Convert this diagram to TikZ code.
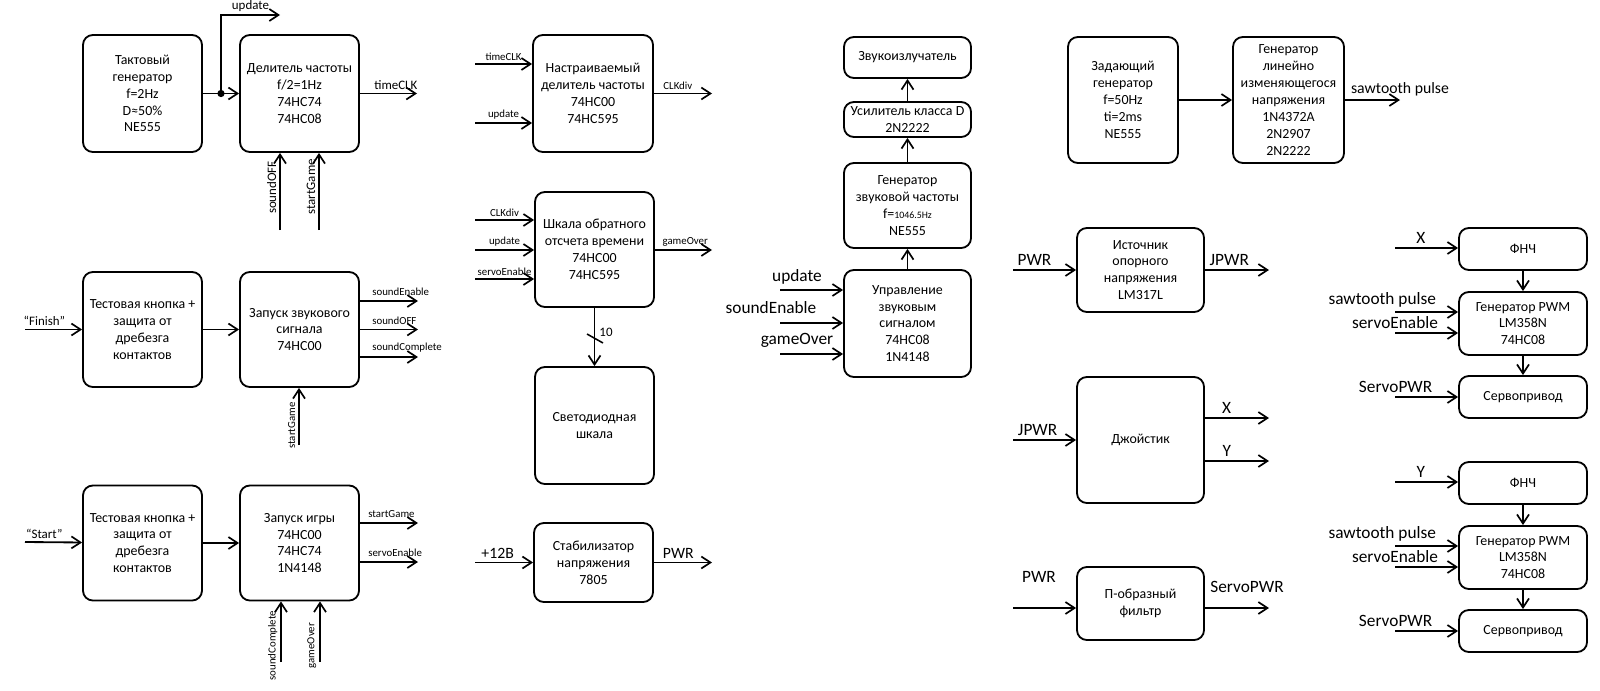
\documentclass[tikz,border=0pt]{standalone}
\usepackage{fontspec}
\setmainfont{Carlito}
\usetikzlibrary{arrows.meta,positioning,calc}

\newcommand\fsBox{\fontsize{9.9}{12}\selectfont}
\newcommand\fsTiny{\fontsize{7}{8}\selectfont}
\newcommand\fsSmall{\fontsize{7.7}{9}\selectfont}
\newcommand\fsMid{\fontsize{9.2}{11}\selectfont}
\newcommand\fsLarge{\fontsize{11.2}{13}\selectfont}
\newcommand\fsBig{\fontsize{12.3}{14}\selectfont}

\tikzset{
  blk/.style 2 args={draw, line width=1.3pt, rounded corners=7pt, align=center,
    inner sep=1pt, font=\fsBox, minimum width=#1*0.025cm, minimum height=#2*0.025cm},
  sig/.style={line width=1.3pt, -{Straight Barb[length=6.5pt,width=8.5pt,line width=1.2pt]}},
  lblS/.style={font=\fsSmall, inner sep=2pt},
  lblM/.style={font=\fsMid, inner sep=2pt},
  lblL/.style={font=\fsLarge, inner sep=2.5pt},
  lblB/.style={font=\fsBig, inner sep=2.5pt}
}

\begin{document}
\begin{tikzpicture}[x=0.025cm, y=-0.025cm]
  \useasboundingbox (0,0) rectangle (1600,691);

  % clock and divider
  \node[blk={119}{117}] (tg) at (142.5,93.5) {Тактовый\\генератор\\f=2Hz\\D≈50\%\\NE555};
  \node[blk={119}{117}] (div) at (299.5,93.5) {Делитель частоты\\f/2=1Hz\\74HC74\\74HC08};
  \coordinate (jn) at (221,93.5);
  \coordinate (upd) at (280,15);
  \coordinate (tclk) at (417,93.5);
  \coordinate (soff) at (280,230);
  \coordinate (sgm) at (319,230);
  \draw[sig] (tg) -- (div);
  \fill (jn) circle (2.6pt);
  \draw[sig] (jn) |- node[pos=.75, above, lblM] {update} (upd);
  \draw[sig] (div) -- node[pos=.63, above, lblM] {timeCLK} (tclk);
  \draw[sig] (soff) -- node[pos=.55, rotate=90, anchor=south, lblM] {soundOFF} (soff |- div.south);
  \draw[sig] (sgm) -- node[pos=.56, rotate=90, anchor=south, lblM] {startGame} (sgm |- div.south);

  % button "Finish"
  \node[blk={119}{115}] (btnF) at (142.5,329.5) {Тестовая кнопка +\\защита от\\дребезга\\контактов};
  \node[blk={119}{115}] (snd) at (299.5,329.5) {Запуск звукового\\сигнала\\74HC00};
  \coordinate (fin) at (25,329.5);
  \draw[sig] (fin) -- node[pos=.34, above, lblM] {“Finish”} (btnF);
  \draw[sig] (btnF) -- (snd);
  \foreach \yy/\txt [count=\i] in {301/soundEnable, 329.5/soundOFF, 357/soundComplete} {
    \coordinate (so\i) at (418,\yy);
    \draw[sig] (so\i -| snd.east) -- node[pos=.15, anchor=south west, lblS, yshift=1pt] {\txt} (so\i);
  }
  \coordinate (sg2) at (299,445);
  \draw[sig] (sg2) -- node[pos=.34, rotate=90, anchor=south, lblS] {startGame} (sg2 |- snd.south);

  % button "Start"
  \node[blk={119}{115}] (btnS) at (142.5,543) {Тестовая кнопка +\\защита от\\дребезга\\контактов};
  \node[blk={119}{115}] (game) at (299.5,543) {Запуск игры\\74HC00\\74HC74\\1N4148};
  \coordinate (sta) at (25,542);
  \draw[sig] (sta) -- node[pos=.34, above, lblM] {“Start”} (btnS);
  \draw[sig] (btnS) -- (game);
  \foreach \yy/\txt [count=\i] in {523/startGame, 562/servoEnable} {
    \coordinate (go\i) at (418,\yy);
    \draw[sig] (go\i -| game.east) -- node[pos=.08, anchor=south west, lblS, yshift=1pt] {\txt} (go\i);
  }
  \coordinate (scp) at (281,662);
  \coordinate (gov) at (320,662);
  \draw[sig] (scp) -- node[pos=.27, rotate=90, anchor=south, lblS] {soundComplete} (scp |- game.south);
  \draw[sig] (gov) -- node[pos=.27, rotate=90, anchor=south, lblS] {gameOver} (gov |- game.south);

  % adjustable divider and countdown
  \node[blk={120}{117}] (pdiv) at (593,93.5) {Настраиваемый\\делитель частоты\\74HC00\\74HC595};
  \foreach \yy/\txt [count=\i] in {64/timeCLK, 123/update} {
    \coordinate (pi\i) at (475,\yy);
    \draw[sig] (pi\i) -- node[pos=.5, above, lblS] {\txt} (pi\i -| pdiv.west);
  }
  \coordinate (cdiv) at (712,93.5);
  \draw[sig] (pdiv) -- node[pos=.1, anchor=south west, lblS] {CLKdiv} (cdiv);

  \node[blk={119}{115}] (cnt) at (594.5,249.5) {Шкала обратного\\отсчета времени\\74HC00\\74HC595};
  \foreach \yy/\txt [count=\i] in {220/CLKdiv, 250/update, 279/servoEnable} {
    \coordinate (ci\i) at (475,\yy);
    \draw[sig] (ci\i) -- node[pos=.5, above, lblS] {\txt} (ci\i -| cnt.west);
  }
  \coordinate (gov2) at (712,250);
  \draw[sig] (gov2 -| cnt.east) -- node[pos=.07, anchor=south west, lblS] {gameOver} (gov2);

  \node[blk={119}{117}] (led) at (594.5,425.5) {Светодиодная\\шкала};
  \draw[sig] (cnt) -- (led);
  \coordinate (bus) at (594.5,338.5);
  \draw[line width=1.1pt] ($(bus)+(-7.5,-4.5)$) -- ($(bus)+(8.5,4.5)$);
  \node[lblM] (busn) at (606,332) {10};

  % voltage regulator
  \node[blk={119}{79}] (stab) at (593.5,562.5) {Стабилизатор\\напряжения\\7805};
  \coordinate (v12) at (475,562.5);
  \coordinate (pwr) at (712,562.5);
  \draw[sig] (v12) -- node[pos=.39, above, lblL] {+12B} (stab);
  \draw[sig] (stab) -- node[pos=.42, above, lblL] {PWR} (pwr);

  % sound chain
  \node[blk={127}{41}] (emit) at (907.5,57.5) {Звукоизлучатель};
  \node[blk={127}{35}] (amp) at (907.5,119.5) {Усилитель класса D\\2N2222};
  \node[blk={127}{85}] (agen) at (907.5,205.5) {Генератор\\звуковой частоты\\f={\fsTiny 1046.5Hz}\\NE555};
  \node[blk={127}{107}] (sctl) at (907.5,323.5) {Управление\\звуковым\\сигналом\\74HC08\\1N4148};
  \draw[sig] (sctl) -- (agen);
  \draw[sig] (agen) -- (amp);
  \draw[sig] (amp) -- (emit);
  \foreach \yy/\lx/\ly/\txt [count=\i] in {290/797/277/update, 323/771/308/soundEnable, 354/797/340/gameOver} {
    \coordinate (ui\i) at (780,\yy);
    \draw[sig] (ui\i) -- (ui\i -| sctl.west);
    \node[lblB] (ul\i) at (\lx,\ly) {\txt};
  }

  % sawtooth generator
  \node[blk={110}{126}] (mgen) at (1123,100) {Задающий\\генератор\\f=50Hz\\ti=2ms\\NE555};
  \node[blk={111}{126}] (ramp) at (1288.5,100) {Генератор\\линейно\\изменяющегося\\напряжения\\1N4372A\\2N2907\\2N2222};
  \coordinate (saw) at (1400,100);
  \draw[sig] (mgen) -- (ramp);
  \draw[sig] (ramp) -- node[pos=1, above, lblL] {sawtooth pulse} (saw);

  % reference, joystick, filter
  \node[blk={127}{84}] (vref) at (1140.5,270) {Источник\\опорного\\напряжения\\LM317L};
  \coordinate (vin) at (1013,270);
  \coordinate (vout) at (1269,270);
  \draw[sig] (vin) -- node[pos=.34, above, lblB] {PWR} (vref);
  \draw[sig] (vref) -- node[pos=.38, above, lblB] {JPWR} (vout);

  \node[blk={127}{126}] (joy) at (1140.5,440) {Джойстик};
  \coordinate (jin) at (1013,440);
  \coordinate (jx) at (1269,418);
  \coordinate (jy) at (1269,461);
  \draw[sig] (jin) -- node[pos=.39, above, lblB] {JPWR} (joy);
  \draw[sig] (jx -| joy.east) -- node[pos=.34, above, lblB] {X} (jx);
  \draw[sig] (jy -| joy.east) -- node[pos=.34, above, lblB] {Y} (jy);

  \node[blk={127}{73}] (pif) at (1140.5,603.5) {П-образный\\фильтр};
  \coordinate (fin2) at (1013,608);
  \coordinate (fout) at (1269,608);
  \draw[sig] (fin2) -- (fin2 -| pif.west);
  \draw[sig] (fout -| pif.east) -- (fout);
  \node[lblB] (finl) at (1039,577) {PWR};
  \node[lblB] (foutl) at (1247,587) {ServoPWR};

  % servo channels
  \foreach \g/\dy/\sx in {1/0/X, 2/234/Y} {
    \node[blk={128}{42}] (lpf\g) at (1523,249+\dy) {ФНЧ};
    \node[blk={128}{63}] (pwm\g) at (1523,323.5+\dy) {Генератор PWM\\LM358N\\74HC08};
    \node[blk={128}{42}] (srv\g) at (1523,397+\dy) {Сервопривод};
    \draw[sig] (lpf\g) -- (pwm\g);
    \draw[sig] (pwm\g) -- (srv\g);
    \coordinate (ax\g) at (1395,248+\dy);
    \coordinate (as\g) at (1395,312+\dy);
    \coordinate (ae\g) at (1395,333+\dy);
    \coordinate (ap\g) at (1395,397+\dy);
    \draw[sig] (ax\g) -- node[pos=.41, above, lblB] {\sx} (ax\g -| lpf\g.west);
    \draw[sig] (as\g) -- node[pos=.72, anchor=south east, lblB] {sawtooth pulse} (as\g -| pwm\g.west);
    \draw[sig] (ae\g) -- node[pos=.75, anchor=south east, lblB] {servoEnable} (ae\g -| pwm\g.west);
    \draw[sig] (ap\g) -- node[pos=.66, anchor=south east, lblB] {ServoPWR} (ap\g -| srv\g.west);
  }
\end{tikzpicture}
\end{document}
